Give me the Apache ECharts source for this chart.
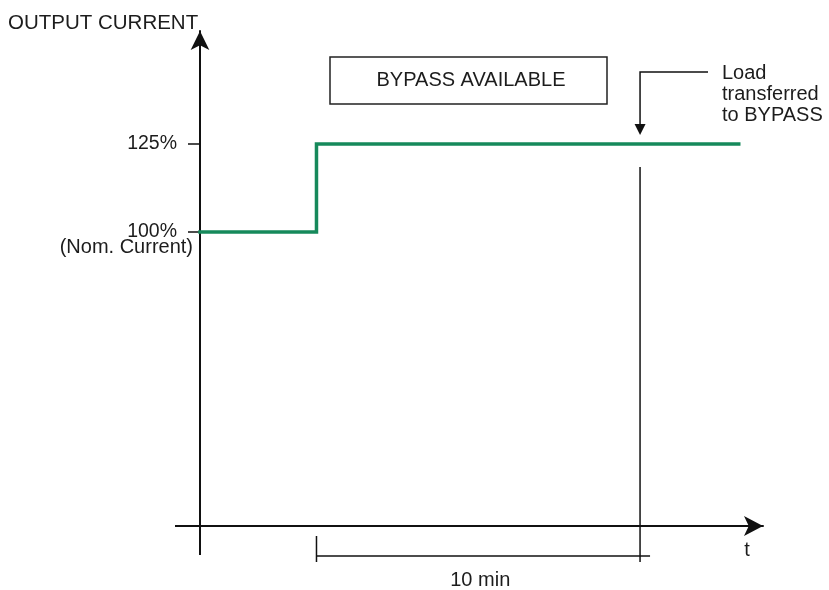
<!DOCTYPE html>
<html><head><meta charset="utf-8">
<script src="https://cdn.jsdelivr.net/npm/echarts@6/dist/echarts.min.js"></script>
<style>html,body{margin:0;padding:0;background:#fff}#c{width:829px;height:590px}</style>
</head><body><div id="c"></div>
<script>
// ---- data ----
const timeMin = [0, 3.6, 3.6, 16.65];
const currentPct = [100, 100, 125, 125];
const tickValues = [100, 125];
const tickLabels = ['100%', '125%'];
const stepTime = 3.6;
const transferTime = 13.6;
const durationLabel = '10 min';
const yTitle = 'OUTPUT CURRENT';
const xTitle = 't';
const boxLabel = 'BYPASS AVAILABLE';
const noteLabel = 'Load\ntransferred\nto BYPASS';
const nomLabel = '(Nom. Current)';

// ---- chart ----
const FONT = '"Liberation Sans", Arial, sans-serif';
const TXT = '#1c1c1c';
const AX = '#111';
const chart = echarts.init(document.getElementById('c'), null, {renderer: 'canvas'});
chart.setOption({
  animation: false,
  backgroundColor: '#fff',
  title: {text: yTitle, left: 3, top: 8, textStyle: {fontFamily: FONT, fontSize: 20.5, fontWeight: 'normal', color: TXT}},
  grid: {left: 200, right: 66, top: 31, bottom: 64},
  xAxis: {
    type: 'value', min: 0, max: 17.4,
    axisLine: {show: true, lineStyle: {color: AX, width: 2}, symbol: ['none', 'arrow'], symbolSize: [15, 19]},
    axisTick: {show: false}, axisLabel: {show: false}, splitLine: {show: false}
  },
  yAxis: {
    type: 'value', min: 16.5, max: 157.1,
    axisLine: {show: true, lineStyle: {color: AX, width: 2}, symbol: ['none', 'arrow'], symbolSize: [14, 19]},
    axisTick: {show: true, customValues: tickValues, length: 12, lineStyle: {color: AX, width: 1.5}},
    axisLabel: {customValues: tickValues, margin: 23, fontFamily: FONT, fontSize: 19.5, color: TXT,
      formatter: v => tickLabels[tickValues.indexOf(v)]},
    splitLine: {show: false}
  },
  series: [{
    type: 'line', data: timeMin.map((t, i) => [t, currentPct[i]]),
    symbol: 'none', clip: false,
    lineStyle: {color: '#16895b', width: 3.5, cap: 'square', join: 'miter'}
  }]
});

const px = (t, v) => chart.convertToPixel({gridIndex: 0}, [t, v]);
const [x0, yBase] = px(0, 16.5);
const [xs] = px(stepTime, 100);
const [xt, y125] = px(transferTime, 125);
const [, y100] = px(0, 100);
const lineStyle = w => ({stroke: AX, lineWidth: w});
const tstyle = (o) => Object.assign({fontFamily: FONT, fontSize: 20, fill: TXT}, o);

chart.setOption({
  graphic: [
    // axis extensions
    {type: 'line', shape: {x1: 175, y1: yBase, x2: x0, y2: yBase}, style: lineStyle(2)},
    {type: 'line', shape: {x1: x0, y1: yBase, x2: x0, y2: 555}, style: lineStyle(2)},
    // transfer vertical line
    {type: 'line', shape: {x1: xt, y1: y125 + 23, x2: xt, y2: 562}, style: lineStyle(1.5)},
    // arrow
    {type: 'polyline', shape: {points: [[708, 72], [xt, 72], [xt, 126]]}, style: {stroke: AX, lineWidth: 1.5, fill: null}},
    {type: 'polygon', shape: {points: [[xt - 5.5, 124], [xt + 5.5, 124], [xt, 135]]}, style: {fill: AX}},
    // dimension
    {type: 'line', shape: {x1: xs, y1: yBase + 10, x2: xs, y2: 562}, style: lineStyle(1.5)},
    {type: 'line', shape: {x1: xs, y1: 556, x2: xt + 10, y2: 556}, style: lineStyle(1.5)},
    {type: 'text', style: tstyle({text: durationLabel, x: (xs + xt) / 2 + 2, y: 580, align: 'center', verticalAlign: 'middle'})},
    {type: 'text', style: tstyle({text: xTitle, x: 747, y: 550, align: 'center', verticalAlign: 'middle'})},
    // nominal label
    {type: 'text', style: tstyle({text: nomLabel, x: 193, y: y100 + 15, align: 'right', verticalAlign: 'middle'})},
    // box
    {type: 'rect', shape: {x: 330, y: 57, width: 277, height: 47}, style: {stroke: '#222', lineWidth: 1.5, fill: null}},
    {type: 'text', style: tstyle({text: boxLabel, x: 471, y: 80, align: 'center', verticalAlign: 'middle'})},
    // note
    {type: 'text', style: tstyle({text: noteLabel, x: 722, y: 94, align: 'left', verticalAlign: 'middle', lineHeight: 21})}
  ]
});
</script></body></html>
